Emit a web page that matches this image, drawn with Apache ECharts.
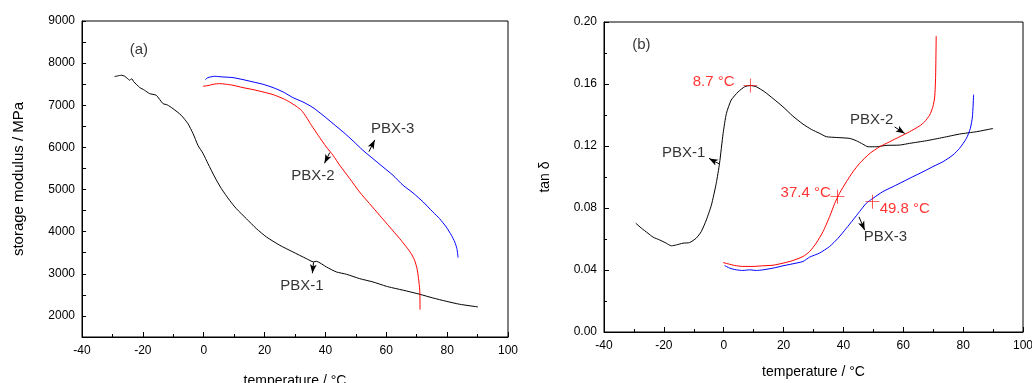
<!DOCTYPE html>
<html>
<head>
<meta charset="utf-8">
<script src="https://cdn.jsdelivr.net/npm/echarts@6/dist/echarts.min.js"></script>
<style>html,body{margin:0;padding:0;background:#fff}#c{width:1032px;height:383px}</style>
</head>
<body>
<div id="c"></div>
<script>
// ---- Data: panel (a) storage modulus (MPa) vs temperature (°C)
const modPBX1 = [[-29.3,7680],[-27.1,7712],[-26,7690],[-25,7630],[-24.3,7593],[-23.7,7630],[-23,7560],[-21,7420],[-19.5,7360],[-17.8,7277],[-15.6,7237],[-13.4,7040],[-12,7010],[-10.1,6920],[-7.4,6763],[-5.2,6565],[-3.5,6328],[-1.9,6050],[-0.2,5853],[1.4,5615],[3.6,5300],[5.8,5022],[8.5,4745],[10.7,4547],[14,4310],[17.3,4073],[20.6,3875],[25,3677],[29.3,3519],[33.7,3361],[36.1,3282],[37,3297],[40.3,3163],[43.6,3044],[46.9,2989],[51.2,2886],[55.6,2807],[60,2704],[62.2,2665],[66.6,2593],[71,2514],[75.3,2427],[79.7,2348],[84.1,2277],[90.1,2214]];
const modPBX2 = [[-0.2,7451],[1.4,7467],[3.1,7498],[5.2,7514],[7.4,7498],[9.6,7475],[12.9,7419],[16.2,7372],[19.5,7316],[22.8,7253],[26.1,7158],[28.2,7079],[30.4,6976],[32.1,6881],[33.7,6723],[35.4,6525],[37.6,6288],[40.3,6011],[42.5,5813],[44.7,5576],[48,5259],[51.2,4943],[54.5,4666],[57.8,4389],[61.1,4112],[64.4,3835],[66.6,3638],[68.2,3479],[69.3,3321],[70.1,3123],[70.6,2886],[71,2609],[71.1,2150]];
const modPBX3 = [[0.5,7609],[1.4,7657],[3.6,7688],[6.3,7672],[9.6,7657],[12.9,7609],[16.2,7554],[19.5,7498],[22.8,7419],[26.1,7316],[29.3,7182],[32.6,7079],[35.9,6945],[39.2,6763],[42.5,6565],[45.8,6367],[49.1,6153],[52.3,5932],[55.6,5734],[58.9,5536],[62.2,5339],[65.5,5101],[68.8,4919],[72.1,4706],[75.3,4468],[77.5,4310],[79.7,4112],[81.4,3915],[82.5,3756],[83.2,3598],[83.6,3384]];

// ---- Data: panel (b) tan delta vs temperature (°C)
const tanPBX1 = [[-29.4,0.0702],[-27.5,0.067],[-25.3,0.0637],[-23.6,0.0612],[-21.4,0.0594],[-19.2,0.0573],[-17.5,0.0556],[-15.8,0.0562],[-13.6,0.0573],[-11.4,0.0577],[-9.2,0.0605],[-7.5,0.0648],[-5.8,0.0723],[-4.1,0.082],[-2.5,0.0959],[-1.4,0.1088],[-0.2,0.1281],[0.9,0.141],[2.5,0.1496],[4.8,0.1549],[7.0,0.1582],[8.9,0.159],[10.9,0.1582],[13.7,0.1549],[16.5,0.1506],[19.8,0.1453],[23.1,0.1393],[26.5,0.1341],[29.3,0.1307],[32.1,0.1281],[34.3,0.126],[37.6,0.1255],[42.1,0.1249],[44.3,0.1234],[46.5,0.1212],[48.2,0.1195],[51.0,0.1195],[54.3,0.1204],[58.8,0.1206],[62.1,0.1217],[67.7,0.1234],[73.3,0.1255],[78.8,0.1277],[84.4,0.1292],[90.0,0.1313]];
const tanPBX2 = [[-0.2,0.0448],[1.4,0.044],[3.7,0.0429],[6.4,0.0423],[9.8,0.0423],[13.1,0.0427],[16.5,0.0431],[19.8,0.0444],[23.1,0.0461],[26.5,0.0487],[28.7,0.0519],[30.9,0.0573],[33.2,0.0648],[35.4,0.0745],[37.1,0.083],[38.7,0.0895],[41.0,0.097],[43.2,0.1034],[45.4,0.1088],[48.8,0.1152],[52.1,0.1195],[55.4,0.1227],[58.8,0.126],[62.1,0.1292],[65.5,0.133],[67.1,0.1356],[68.8,0.1399],[69.9,0.1453],[70.5,0.1517],[70.8,0.1646],[71.0,0.191]];
const tanPBX3 = [[0.3,0.0429],[2.0,0.0412],[4.2,0.0401],[6.4,0.0397],[8.7,0.0401],[10.9,0.0397],[13.1,0.0401],[16.5,0.0412],[19.8,0.0427],[23.1,0.044],[26.5,0.0455],[28.7,0.0483],[32.0,0.0509],[35.4,0.0552],[38.2,0.0605],[41.0,0.067],[43.2,0.0723],[45.4,0.0777],[47.6,0.083],[49.9,0.0863],[53.2,0.0906],[56.6,0.0938],[59.9,0.097],[63.2,0.1002],[66.6,0.1034],[69.9,0.1067],[73.3,0.1099],[76.6,0.1142],[78.8,0.1185],[81.1,0.1249],[82.4,0.1313],[83.1,0.1388],[83.5,0.1532]];

// ---- Transition markers (b)
const tgPoints = [[8.9,0.159],[38.0,0.0873],[49.7,0.0841]];
const tgLabels = [{t:-3.35,v:0.1613,text:'8.7 °C'},{t:27.4,v:0.0900,text:'37.4 °C'},{t:60.5,v:0.0797,text:'49.8 °C'}];

// ---- Annotation labels & arrows (tail -> head)
const labelsA = [{t:62.1,v:6430,text:'PBX-3'},{t:35.9,v:5322,text:'PBX-2'},{t:32.3,v:2712,text:'PBX-1'},{t:-21.3,v:8312,text:'(a)'}];
const arrowsA = [[[54.3,5899],[56.2,6177]],[[41.4,5875],[39.7,5624]],[[36.1,3274],[35.7,3013]]];
const labelsB = [{t:49.4,v:0.1366,text:'PBX-2'},{t:-13.4,v:0.1156,text:'PBX-1'},{t:54.0,v:0.0614,text:'PBX-3'},{t:-27.5,v:0.1854,text:'(b)'}];
const arrowsB = [[[57.1,0.1323],[60.5,0.1281]],[[-1.34,0.1083],[-4.9,0.112]],[[45.2,0.0743],[47.1,0.0657]]];

const xTicks = {min:-40, max:100, interval:20};
const FONT = 'Liberation Sans, Arial, sans-serif';

function xAxisCfg(gi, nameGap){
  return {type:'value', gridIndex:gi, min:xTicks.min, max:xTicks.max, interval:xTicks.interval,
    name:'temperature / °C', nameLocation:'middle', nameGap:nameGap,
    nameTextStyle:{fontFamily:FONT,fontSize:14,color:'#000'},
    axisLine:{onZero:false,lineStyle:{color:'#000',width:1}},
    axisTick:{inside:true,length:5,lineStyle:{color:'#000'}},
    minorTick:{show:true,splitNumber:2,length:3,lineStyle:{color:'#000'}},
    axisLabel:{fontFamily:FONT,fontSize:12,color:'#000',margin:8},
    splitLine:{show:false}};
}
function lineSeries(data, color, xi, yi){
  return {type:'line', data:data, xAxisIndex:xi, yAxisIndex:yi, showSymbol:false, symbol:'none',
    smooth:0.2, lineStyle:{color:color,width:1}, itemStyle:{color:color}, animation:false, silent:true, z:3};
}
function textSeries(items, xi, yi, color){
  return {type:'scatter', xAxisIndex:xi, yAxisIndex:yi, symbolSize:0, animation:false, silent:true, z:6,
    data: items.map(d=>({value:[d.t,d.v], name:d.text})),
    label:{show:true, position:'inside', formatter:'{b}', fontFamily:FONT, fontSize:15, color:color}};
}
function arrowSeries(arrows, xi, yi){
  return {type:'line', xAxisIndex:xi, yAxisIndex:yi, data:[], animation:false, silent:true, z:6,
    markLine:{silent:true, animation:false, symbol:['none','arrow'], symbolSize:8, precision:6,
      lineStyle:{color:'#000',width:1,type:'solid'}, itemStyle:{color:'#000'}, label:{show:false},
      data: arrows.map(a=>[{coord:a[0], symbol:'none'},{coord:a[1], symbol:'arrow', symbolSize:[5,9]}])}};
}

const chart = echarts.init(document.getElementById('c'), null, {renderer:'canvas'});
chart.setOption({
  backgroundColor:'#fff',
  animation:false,
  grid:[
    {left:82, right:524, top:21, bottom:46, show:true, borderColor:'#000', borderWidth:1, backgroundColor:'transparent', containLabel:false, outerBoundsMode:'none'},
    {left:604, right:9, top:22, bottom:51, show:true, borderColor:'#000', borderWidth:1, backgroundColor:'transparent', containLabel:false, outerBoundsMode:'none'}
  ],
  xAxis:[xAxisCfg(0,37), xAxisCfg(1,33)],
  yAxis:[
    {type:'value', gridIndex:0, min:1500, max:9000, interval:500,
      name:'storage modulus / MPa', nameLocation:'middle', nameGap:56,
      nameTextStyle:{fontFamily:FONT,fontSize:15,color:'#000'},
      axisLine:{onZero:false,lineStyle:{color:'#000'}},
      axisTick:{inside:true,length:4,lineStyle:{color:'#000'}},
      axisLabel:{fontFamily:FONT,fontSize:12,color:'#000',margin:7,
        formatter:v=> (v%1000===0 ? String(v) : '')},
      splitLine:{show:false}},
    {type:'value', gridIndex:1, min:0, max:0.2, interval:0.04,
      name:'tan δ', nameLocation:'middle', nameGap:52,
      nameTextStyle:{fontFamily:FONT,fontSize:14,color:'#000'},
      axisLine:{onZero:false,lineStyle:{color:'#000'}},
      axisTick:{inside:true,length:5,lineStyle:{color:'#000'}},
      minorTick:{show:true,splitNumber:2,length:3,lineStyle:{color:'#000'}},
      axisLabel:{fontFamily:FONT,fontSize:12,color:'#000',margin:7,formatter:v=>v.toFixed(2)},
      splitLine:{show:false}}
  ],
  series:[
    lineSeries(modPBX1,'#000000',0,0),
    lineSeries(modPBX2,'#ff0000',0,0),
    lineSeries(modPBX3,'#0000ff',0,0),
    lineSeries(tanPBX1,'#000000',1,1),
    lineSeries(tanPBX2,'#ff0000',1,1),
    lineSeries(tanPBX3,'#0000ff',1,1),
    {type:'scatter', xAxisIndex:1, yAxisIndex:1, data:tgPoints, animation:false, silent:true, z:5,
      symbol:'path://M-0.6,-10H0.6V10H-0.6Z M-10,-0.6H10V0.6H-10Z', symbolSize:14,
      itemStyle:{color:'#ff0000'}},
    textSeries(tgLabels,1,1,'#ff0000'),
    textSeries(labelsA,0,0,'#000'),
    textSeries(labelsB,1,1,'#000'),
    arrowSeries(arrowsA,0,0),
    arrowSeries(arrowsB,1,1)
  ]
});
</script>
</body>
</html>
